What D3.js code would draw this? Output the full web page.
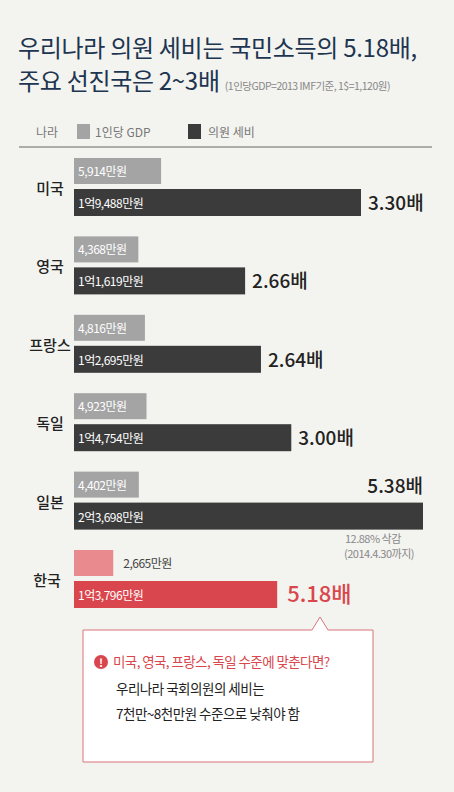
<!DOCTYPE html><html><head><meta charset="utf-8"><script src="https://cdn.jsdelivr.net/npm/d3@7"></script>
<style>body{margin:0;background:#f3f3ef}svg{display:block;font-family:"Noto Sans CJK KR",sans-serif}</style></head><body><script>
const countries=["미국","영국","프랑스","독일","일본","한국"];
const gdp=[5914,4368,4816,4923,4402,2665];
const pay=[19488,11619,12695,14754,23698,13796];
const gdpLabels=["5,914만원","4,368만원","4,816만원","4,923만원","4,402만원","2,665만원"];
const payLabels=["1억9,488만원","1억1,619만원","1억2,695만원","1억4,754만원","2억3,698만원","1억3,796만원"];
const ratios=["3.30배","2.66배","2.64배","3.00배","5.38배","5.18배"];
const W=454,H=792;
const svg=d3.select("body").append("svg").attr("width",W).attr("height",H);
svg.append("rect").attr("width",W).attr("height",H).attr("fill","#f3f3ef");
svg.append("text").attr("x",18).attr("y",57).attr("font-size",24).attr("fill","#1d3550").attr("letter-spacing",-0.3).text("우리나라 의원 세비는 국민소득의 5.18배,");
const t2=svg.append("text").attr("x",18).attr("y",90).attr("fill","#1d3550");
t2.append("tspan").attr("font-size",24).attr("letter-spacing",-0.3).text("주요 선진국은 2~3배 ");
t2.append("tspan").attr("font-size",10.5).attr("fill","#888").attr("letter-spacing",-0.5).text("(1인당GDP=2013 IMF기준, 1$=1,120원)");
svg.append("text").attr("x",36).attr("y",137).attr("font-size",12).attr("fill","#777").text("나라");
svg.append("rect").attr("x",77).attr("y",124).attr("width",13).attr("height",15).attr("fill","#a4a4a4");
svg.append("text").attr("x",95).attr("y",137).attr("font-size",12).attr("fill","#777").text("1인당 GDP");
svg.append("rect").attr("x",188).attr("y",124).attr("width",13).attr("height",15).attr("fill","#3b3b3b");
svg.append("text").attr("x",208).attr("y",137).attr("font-size",12).attr("fill","#777").text("의원 세비");
svg.append("line").attr("x1",19).attr("x2",432).attr("y1",147).attr("y2",147).attr("stroke","#666");
const x=d3.scaleLinear().domain([0,23698]).range([74,423]);
const y=d3.scaleLinear().domain([0,5]).range([158,550]);
countries.forEach((c,i)=>{
  const y0=y(i),kr=i===5;
  const g=svg.append("g");
  g.append("rect").attr("x",x(0)).attr("y",y0).attr("width",x(gdp[i])-x(0)).attr("height",26).attr("fill",kr?"#e88a8e":"#a4a4a4");
  g.append("text").attr("x",kr?x(gdp[i])+10:x(0)+4).attr("y",y0+18).attr("font-size",12).attr("letter-spacing",-0.5).attr("fill",kr?"#444":"#fff").text(gdpLabels[i]);
  g.append("rect").attr("x",x(0)).attr("y",y0+31).attr("width",x(pay[i])-x(0)).attr("height",27).attr("fill",kr?"#d9464d":"#3b3b3b");
  g.append("text").attr("x",x(0)+4).attr("y",y0+50).attr("font-size",12).attr("letter-spacing",-0.5).attr("fill","#fff").text(payLabels[i]);
  g.append("text").attr("x",kr?47:50).attr("y",y0+36).attr("text-anchor","middle").attr("font-size",15).attr("font-weight",500).attr("fill","#222").text(c);
  if(i===4){
    g.append("text").attr("x",423).attr("y",y0+21).attr("text-anchor","end").attr("font-size",19).attr("font-weight",500).attr("fill","#222").text(ratios[i]);
    g.append("text").attr("x",345).attr("y",y0+71).attr("font-size",11).attr("fill","#888").attr("letter-spacing",-0.5).text("12.88% 삭감");
    g.append("text").attr("x",344).attr("y",y0+86).attr("font-size",11).attr("fill","#888").attr("letter-spacing",-0.5).text("(2014.4.30까지)");
  } else {
    g.append("text").attr("x",x(pay[i])+(kr?10:7)).attr("y",y0+52).attr("font-size",kr?22:19).attr("font-weight",500).attr("fill",kr?"#d9464d":"#222").text(ratios[i]);
  }
});
svg.append("path").attr("d","M83,630 H312 L320,617 L328,630 H373 V762 H83 Z").attr("fill","#fff").attr("stroke","#d9747a").attr("stroke-width",1);
svg.append("circle").attr("cx",101).attr("cy",662).attr("r",7).attr("fill","#d9464d");
svg.append("text").attr("x",101).attr("y",666.5).attr("text-anchor","middle").attr("font-size",11).attr("font-weight",700).attr("fill","#fff").text("!");
svg.append("text").attr("x",113).attr("y",667).attr("font-size",13.5).attr("fill","#d9464d").attr("letter-spacing",-0.6).text("미국, 영국, 프랑스, 독일 수준에 맞춘다면?");
svg.append("text").attr("x",116).attr("y",694).attr("font-size",13.5).attr("fill","#222").attr("letter-spacing",-0.5).text("우리나라 국회의원의 세비는");
svg.append("text").attr("x",116).attr("y",719).attr("font-size",13.5).attr("fill","#222").attr("letter-spacing",-0.5).text("7천만~8천만원 수준으로 낮춰야 함");
</script></body></html>
